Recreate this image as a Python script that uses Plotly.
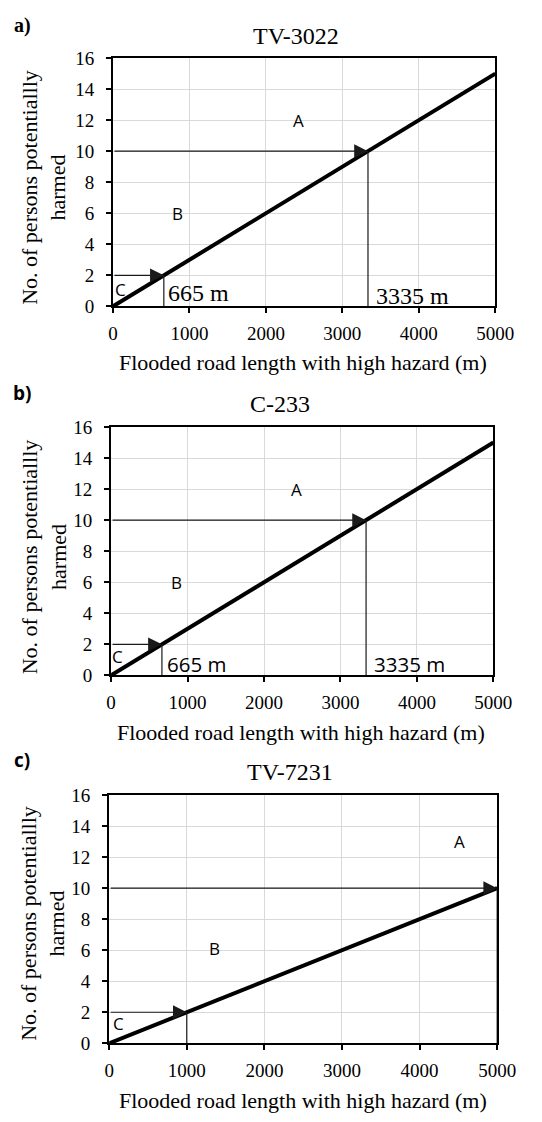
import plotly.graph_objects as go

# ---------------- data ----------------
road_length_ends = [0, 5000]
persons_a = [0, 15]
persons_b = [0, 15]
persons_c = [0, 10]
threshold_persons = [2, 10]
threshold_length_a = [665, 3335]
threshold_length_b = [665, 3335]
threshold_length_c = [1000, 5000]
length_labels_a = ["665 m", "3335 m"]
length_labels_b = ["665 m", "3335 m"]
zone_labels = ["A", "B", "C"]
x_ticks = [0, 1000, 2000, 3000, 4000, 5000]
y_ticks = [0, 2, 4, 6, 8, 10, 12, 14, 16]
titles = ["TV-3022", "C-233", "TV-7231"]
panel_tags = ["a)", "b)", "c)"]
x_title = "Flooded road length with high hazard (m)"
y_title = "No. of persons potentiallly<br>harmed"

# ---------------- layout config (pixels) ----------------
W, H = 542, 1122
SERIF = "Liberation Serif"
SANS = "Open Sans"

panels = [
    dict(persons=persons_a, thr=threshold_length_a, lbl=length_labels_a,
         lbl_font=dict(family=SERIF, size=24, color="black"),
         lbl_pos=[(692, 0.83), (3408, 0.66)],
         zone_pos=[(2420, 12), (840, 6), (95, 1.1)],
         box=(113, 513, 49, 302), title_pos=(305, 27), tag_pos=(18, 16),
         tag_font=dict(family=SERIF, size=20, color="black"),
         ytitle_pos=(40, 181), xtitle_pos=(312, 359)),
    dict(persons=persons_b, thr=threshold_length_b, lbl=length_labels_b,
         lbl_font=dict(family=SANS, size=20.5, color="black"),
         lbl_pos=[(708, 0.74), (3415, 0.74)],
         zone_pos=[(2420, 12), (860, 6), (90, 1.2)],
         box=(111, 511, 425, 678), title_pos=(288, 402), tag_pos=(18, 390),
         tag_font=dict(family=SANS, size=19, color="black"),
         ytitle_pos=(40.5, 557), xtitle_pos=(310, 736)),
    dict(persons=persons_c, thr=threshold_length_c, lbl=None,
         lbl_font=None, lbl_pos=None,
         zone_pos=[(4520, 13), (1360, 6.1), (115, 1.25)],
         box=(109, 515, 800, 1053), title_pos=(298, 777), tag_pos=(18, 764),
         tag_font=dict(family=SANS, size=19, color="black"),
         ytitle_pos=(39, 931), xtitle_pos=(312, 1111)),
]


def px(x):
    return x / W


def py(y):
    return 1 - y / H


fig = go.Figure()
annotations = []

for i, p in enumerate(panels):
    sfx = "" if i == 0 else str(i + 1)
    xa, ya = "x" + sfx, "y" + sfx
    l, r, t, b = p["box"]

    # main relation line
    fig.add_trace(go.Scatter(
        x=road_length_ends, y=p["persons"], mode="lines",
        line=dict(color="black", width=4),
        xaxis=xa, yaxis=ya, showlegend=False, hoverinfo="skip"))

    # threshold guides
    for tx, ty in zip(p["thr"], threshold_persons):
        fig.add_trace(go.Scatter(
            x=[tx, tx], y=[ty, 0], mode="lines",
            line=dict(color="#1a1a1a", width=1.2),
            xaxis=xa, yaxis=ya, showlegend=False, hoverinfo="skip"))
        annotations.append(dict(
            x=tx, y=ty, ax=road_length_ends[0], ay=ty,
            xref=xa, yref=ya, axref=xa, ayref=ya,
            text="", showarrow=True, arrowhead=2, arrowsize=2.3,
            arrowwidth=1.2, arrowcolor="#1a1a1a", standoff=0))

    # zone letters
    for lab, (zx, zy) in zip(zone_labels, p["zone_pos"]):
        annotations.append(dict(
            x=zx, y=zy, xref=xa, yref=ya, text=lab, showarrow=False,
            xanchor="center", yanchor="middle",
            font=dict(family=SANS, size=17, color="black")))

    # length labels
    if p["lbl"]:
        for lab, (lx, ly) in zip(p["lbl"], p["lbl_pos"]):
            annotations.append(dict(
                x=lx, y=ly, xref=xa, yref=ya, text=lab, showarrow=False,
                xanchor="left", yanchor="middle", font=p["lbl_font"]))

    # titles, tags, axis titles
    annotations.append(dict(
        x=px(p["title_pos"][0]), y=py(p["title_pos"][1]), xref="paper", yref="paper",
        text=titles[i], showarrow=False, xanchor="center", yanchor="middle",
        font=dict(family=SERIF, size=24, color="black")))
    annotations.append(dict(
        x=px(p["tag_pos"][0]), y=py(p["tag_pos"][1]), xref="paper", yref="paper",
        text="<b>" + panel_tags[i] + "</b>", showarrow=False,
        xanchor="center", yanchor="middle", font=p["tag_font"]))
    annotations.append(dict(
        x=px(p["ytitle_pos"][0]), y=py(p["ytitle_pos"][1]), xref="paper", yref="paper",
        text=y_title, showarrow=False, textangle=-90,
        xanchor="center", yanchor="middle",
        font=dict(family=SERIF, size=22, color="black")))
    annotations.append(dict(
        x=px(p["xtitle_pos"][0]), y=py(p["xtitle_pos"][1]), xref="paper", yref="paper",
        text=x_title, showarrow=False, xanchor="center", yanchor="middle",
        font=dict(family=SERIF, size=22, color="black")))

    axis_common = dict(
        showgrid=True, gridcolor="#d9d9d9", gridwidth=1.3,
        showline=True, mirror=True, linecolor="black", linewidth=2,
        ticks="outside", ticklen=5, tickwidth=1.5, tickcolor="black",
        zeroline=False, tickfont=dict(family=SERIF, size=19, color="black"))
    fig.update_layout(**{
        "xaxis" + sfx: dict(domain=[px(l), px(r)], range=[0, 5000], tickvals=x_ticks,
                            anchor=ya, ticklabelstandoff=4, **axis_common),
        "yaxis" + sfx: dict(domain=[py(b), py(t)], range=[0, 16], tickvals=y_ticks,
                            anchor=xa, ticklabelstandoff=8, **axis_common),
    })

fig.update_layout(
    width=W, height=H, autosize=False,
    margin=dict(l=0, r=0, t=0, b=0),
    paper_bgcolor="white", plot_bgcolor="white",
    annotations=annotations, showlegend=False)

fig.write_html("out.html")
